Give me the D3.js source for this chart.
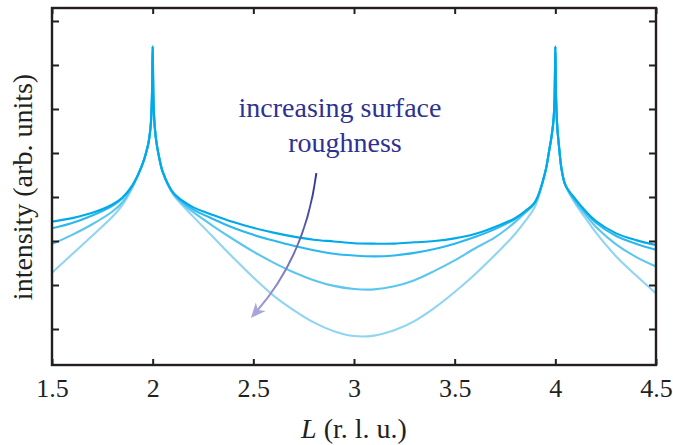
<!DOCTYPE html>
<meta charset="utf-8">
<head>
 <title>CTR roughness</title>
</head>

<style>
body { margin: 0; background: #fff; }
text { font-family: "Liberation Serif", "Times New Roman", serif; fill: #231f20; }
.curve { fill: none; stroke-width: 2.1; stroke-linejoin: round; }
</style>

<body>
 <div id="content">
   <svg width="673" height="445"></svg>
 </div>

 <script src="https://cdnjs.cloudflare.com/ajax/libs/d3/7.8.5/d3.min.js"></script>

 <script>
var width = 673, height = 445

// L values (r.l.u.) sampled along the curves
var L = [1.5, 1.6, 1.7, 1.8, 1.85, 1.9, 1.95, 1.97, 1.98, 1.99, 1.996, 2.0,
  2.004, 2.01, 2.02, 2.03, 2.05, 2.1, 2.15, 2.2, 2.3, 2.4, 2.5, 2.6, 2.7, 2.8, 2.9,
  3.0, 3.1, 3.2, 3.3, 3.4, 3.5, 3.6, 3.7, 3.8, 3.85, 3.9, 3.95, 3.97, 3.98, 3.99, 3.996, 4.0,
  4.004, 4.01, 4.02, 4.03, 4.05, 4.1, 4.15, 4.2, 4.3, 4.4, 4.5]

// intensity (arb. units), smooth surface -> roughest surface
var smooth = [2.44, 2.52, 2.64, 2.83, 2.99, 3.27, 3.75, 4.05, 4.25, 4.61, 5.20, 6.42,
  5.20, 4.61, 4.20, 3.95, 3.57, 3.11, 2.91, 2.77, 2.59, 2.43, 2.30, 2.19, 2.10, 2.03, 1.99,
  1.95, 1.94, 1.94, 1.97, 2.00, 2.06, 2.16, 2.32, 2.52, 2.68, 2.89, 3.57, 4.07, 4.34, 4.70, 5.20, 6.42,
  5.20, 4.57, 4.07, 3.66, 3.27, 2.95, 2.68, 2.46, 2.18, 2.02, 1.91]
var rough1 = [2.29, 2.41, 2.58, 2.80, 2.97, 3.26, 3.75, 4.05, 4.25, 4.61, 5.20, 6.42,
  5.20, 4.61, 4.20, 3.95, 3.57, 3.10, 2.88, 2.72, 2.50, 2.30, 2.14, 2.01, 1.89, 1.79, 1.71,
  1.67, 1.65, 1.67, 1.73, 1.82, 1.94, 2.09, 2.27, 2.50, 2.66, 2.89, 3.57, 4.07, 4.34, 4.70, 5.20, 6.42,
  5.20, 4.57, 4.07, 3.66, 3.27, 2.93, 2.66, 2.42, 2.12, 1.94, 1.80]
var rough2 = [1.93, 2.14, 2.38, 2.67, 2.88, 3.24, 3.75, 4.05, 4.25, 4.61, 5.20, 6.42,
  5.20, 4.61, 4.20, 3.95, 3.57, 3.09, 2.84, 2.66, 2.34, 2.04, 1.76, 1.51, 1.29, 1.11, 0.98,
  0.91, 0.90, 0.97, 1.11, 1.32, 1.56, 1.83, 2.08, 2.43, 2.64, 2.87, 3.57, 4.07, 4.34, 4.70, 5.20, 6.42,
  5.20, 4.57, 4.07, 3.66, 3.27, 2.88, 2.60, 2.33, 1.93, 1.64, 1.42]
var rough3 = [1.28, 1.70, 2.12, 2.55, 2.82, 3.22, 3.75, 4.05, 4.25, 4.61, 5.20, 6.42,
  5.20, 4.61, 4.20, 3.95, 3.57, 3.07, 2.80, 2.56, 2.09, 1.62, 1.17, 0.76, 0.43, 0.15, -0.05,
  -0.16, -0.15, -0.03, 0.18, 0.48, 0.84, 1.24, 1.68, 2.16, 2.45, 2.79, 3.57, 4.07, 4.34, 4.70, 5.20, 6.42,
  5.20, 4.57, 4.07, 3.66, 3.27, 2.84, 2.52, 2.20, 1.66, 1.22, 0.81]

var series = [rough3, rough2, rough1, smooth]
var colors = ["#8fd5f3", "#5cc6ef", "#2cb8ee", "#00aae8"]

var xTicks = [1.5, 2, 2.5, 3, 3.5, 4, 4.5]
var yTicks = [0, 1, 2, 3, 4, 5, 6, 7]

var svg = d3.select('svg')

var x = d3.scaleLinear().domain([1.5, 4.5]).range([52, 656])
var y = d3.scaleLinear().domain([-0.818, 7.295]).range([365, 8])

svg.append('clipPath').attr('id', 'plot')
  .append('rect')
  .attr('x', 52).attr('y', 8).attr('width', 604).attr('height', 357)

var line = d3.line()
  .x(function(d) { return x(d[0]) })
  .y(function(d) { return y(d[1]) })
  .curve(d3.curveCatmullRom.alpha(0.5))

series.forEach(function(s, i) {
  svg.append('path')
    .attr('class', 'curve')
    .attr('clip-path', 'url(#plot)')
    .attr('stroke', colors[i])
    .attr('d', line(d3.zip(L, s)))
})

// axes: inward ticks on all four sides
function styleAxis(g) {
  g.select('.domain').remove()
  g.selectAll('line').attr('stroke', '#231f20').attr('stroke-width', 2)
}

svg.append('g')
  .attr('transform', 'translate(0,365)')
  .call(d3.axisBottom(x).tickValues(xTicks).tickSizeInner(-6).tickSizeOuter(0)
    .tickFormat(d3.format('')).tickPadding(14))
  .call(styleAxis)
  .selectAll('text')
  .attr('font-size', 26).attr('font-family', 'Liberation Serif').attr('fill', '#231f20')

svg.append('g')
  .attr('transform', 'translate(0,8)')
  .call(d3.axisTop(x).tickValues(xTicks).tickSizeInner(-6).tickSizeOuter(0).tickFormat(''))
  .call(styleAxis)

svg.append('g')
  .attr('transform', 'translate(52,0)')
  .call(d3.axisLeft(y).tickValues(yTicks).tickSizeInner(-7).tickSizeOuter(0).tickFormat(''))
  .call(styleAxis)

svg.append('g')
  .attr('transform', 'translate(656,0)')
  .call(d3.axisRight(y).tickValues(yTicks).tickSizeInner(-7).tickSizeOuter(0).tickFormat(''))
  .call(styleAxis)

svg.append('rect')
  .attr('x', 52).attr('y', 8).attr('width', 604).attr('height', 357)
  .attr('fill', 'none').attr('stroke', '#231f20').attr('stroke-width', 2.4)

// axis titles
svg.append('text')
  .attr('transform', 'translate(32,187) rotate(-90)')
  .attr('text-anchor', 'middle')
  .attr('font-size', 28)
  .text('intensity (arb. units)')

var xl = svg.append('text')
  .attr('x', x(3)).attr('y', 438)
  .attr('text-anchor', 'middle')
  .attr('font-size', 28)
xl.append('tspan').attr('font-style', 'italic').text('L')
xl.append('tspan').text(' (r. l. u.)')

// annotation
var arrowStart = [2.813, 3.545], arrowCtrl = [2.76, 1.68], arrowEnd = [2.488, 0.25]

var grad = svg.append('defs').append('linearGradient')
  .attr('id', 'arrowGrad')
  .attr('gradientUnits', 'userSpaceOnUse')
  .attr('x1', x(arrowStart[0])).attr('y1', y(arrowStart[1]))
  .attr('x2', x(arrowEnd[0])).attr('y2', y(arrowEnd[1]))
grad.append('stop').attr('offset', '0%').attr('stop-color', '#2e3192')
grad.append('stop').attr('offset', '100%').attr('stop-color', '#a7a5d9')

var p = d3.path()
p.moveTo(x(arrowStart[0]), y(arrowStart[1]))
p.quadraticCurveTo(x(arrowCtrl[0]), y(arrowCtrl[1]), x(arrowEnd[0]) + 6, y(arrowEnd[1]) - 7)
svg.append('path')
  .attr('d', p.toString())
  .attr('fill', 'none')
  .attr('stroke', 'url(#arrowGrad)')
  .attr('stroke-width', 2)

// arrow head
var tip = [x(arrowEnd[0]), y(arrowEnd[1])]
var ang = Math.atan2(tip[1] - y(arrowCtrl[1]), tip[0] - x(arrowCtrl[0]))
var hl = 15, hw = 6.5
svg.append('path')
  .attr('d', 'M' + tip[0] + ',' + tip[1] +
    'L' + (tip[0] - hl * Math.cos(ang) + hw * Math.sin(ang)) + ',' + (tip[1] - hl * Math.sin(ang) - hw * Math.cos(ang)) +
    'L' + (tip[0] - hl * 0.7 * Math.cos(ang)) + ',' + (tip[1] - hl * 0.7 * Math.sin(ang)) +
    'L' + (tip[0] - hl * Math.cos(ang) - hw * Math.sin(ang)) + ',' + (tip[1] - hl * Math.sin(ang) + hw * Math.cos(ang)) + 'Z')
  .attr('fill', '#a7a5d9')

svg.append('text')
  .attr('x', 340).attr('y', 117)
  .attr('text-anchor', 'middle')
  .attr('font-size', 28)
  .style('fill', '#2e3192')
  .text('increasing surface')

svg.append('text')
  .attr('x', 345).attr('y', 152)
  .attr('text-anchor', 'middle')
  .attr('font-size', 28)
  .style('fill', '#2e3192')
  .text('roughness')
 </script>
</body>
